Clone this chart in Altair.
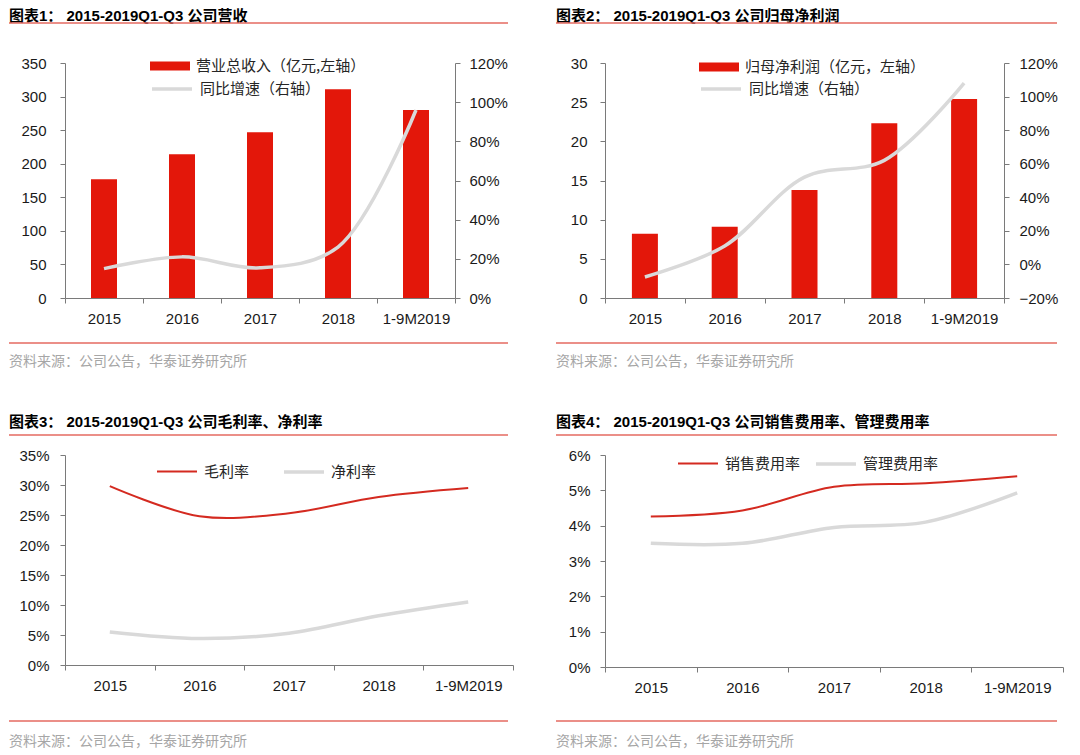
import altair as alt
import pandas as pd

years = ["2015", "2016", "2017", "2018", "1-9M2019"]
idx = [0, 1, 2, 3, 4]
revenue = [177, 214, 247, 311, 280]
revenue_growth = [0.15, 0.21, 0.154, 0.26, 0.96]
net_profit = [8.2, 9.1, 13.8, 22.3, 25.4]
net_profit_growth = [-0.075, 0.11, 0.52, 0.62, 1.08]
gross_margin = [0.298, 0.248, 0.253, 0.28, 0.295]
net_margin = [0.055, 0.044, 0.053, 0.082, 0.105]
sales_rate = [0.0426, 0.0443, 0.051, 0.052, 0.054]
admin_rate = [0.035, 0.035, 0.0395, 0.041, 0.0493]

titles = [
    "图表1：  2015-2019Q1-Q3 公司营收",
    "图表2：  2015-2019Q1-Q3 公司归母净利润",
    "图表3：  2015-2019Q1-Q3 公司毛利率、净利率",
    "图表4：  2015-2019Q1-Q3 公司销售费用率、管理费用率",
]
bar1_name = "营业总收入（亿元,左轴）"
line1_name = "同比增速（右轴）"
bar2_name = "归母净利润（亿元，左轴）"
line2_name = "同比增速（右轴）"
p3_names = ["毛利率", "净利率"]
p4_names = ["销售费用率", "管理费用率"]
source = "资料来源：公司公告，华泰证券研究所"

RED = "#E3170A"
GRAY = "#D9D9D9"
LINE_RED = "#D42A20"
DECO = "#E46A60"
LATIN = "Liberation Sans"
CJK = "Noto Sans CJK SC"
MIX = "Liberation Sans, Noto Sans CJK SC"
RECT_PATH = "M-1,-0.22L1,-0.22L1,0.22L-1,0.22Z"


def deco(title, x0, x1, y_title, y_top, y_bot, y_src):
    one = alt.Chart(pd.DataFrame({"k": [0]}))
    t = one.mark_text(text=title, font=MIX, fontSize=15, fontWeight="bold",
                      align="left", baseline="middle", color="#000000").encode(
        x=alt.value(x0), y=alt.value(y_title))
    r1 = one.mark_rule(color=DECO, strokeWidth=1.5).encode(
        x=alt.value(x0), x2=alt.value(x1), y=alt.value(y_top))
    r2 = one.mark_rule(color=DECO, strokeWidth=1.5).encode(
        x=alt.value(x0), x2=alt.value(x1), y=alt.value(y_bot))
    s = one.mark_text(text=source, font=CJK, fontSize=14, color="#a6a6a6",
                      align="left", baseline="middle").encode(
        x=alt.value(x0), y=alt.value(y_src))
    return [t, r1, r2, s]


def xenc():
    return alt.X("year:N", sort=years,
                 scale=alt.Scale(paddingInner=0, paddingOuter=0),
                 axis=alt.Axis(title=None, labelAngle=0, tickBand="extent",
                               labelPadding=8))


def bar_line_panel(df, bar_field, line_field, bar_name, line_name, ydom, yvals,
                   rdom, rvals, lpad, rpad, legx, legy_bar, legy_line, w, h, d):
    bars = alt.Chart(df).mark_bar(size=26).encode(
        x=xenc(),
        y=alt.Y(bar_field + ":Q", scale=alt.Scale(domain=ydom, nice=False),
                axis=alt.Axis(title=None, values=yvals, labelPadding=lpad)),
        fill=alt.Fill("bar_s:N", scale=alt.Scale(domain=[bar_name], range=[RED]),
                      legend=alt.Legend(title=None, orient="none", legendX=legx,
                                        legendY=legy_bar, symbolType=RECT_PATH,
                                        symbolSize=1600, symbolStrokeWidth=0,
                                        labelOffset=6, labelFontSize=15,
                                        labelFont=CJK, labelColor="#262626",
                                        labelLimit=400, padding=0)),
    )
    line = alt.Chart(df).mark_line(interpolate="catmull-rom", strokeWidth=3.5).encode(
        x=xenc(),
        y=alt.Y(line_field + ":Q", scale=alt.Scale(domain=rdom, nice=False),
                axis=alt.Axis(orient="right", title=None, format=".0%",
                              values=rvals, labelPadding=rpad)),
        order=alt.Order("idx:Q"),
        stroke=alt.Stroke("line_s:N", scale=alt.Scale(domain=[line_name], range=[GRAY]),
                          legend=alt.Legend(title=None, orient="none", legendX=legx,
                                            legendY=legy_line, symbolType="stroke",
                                            symbolSize=1600, symbolStrokeWidth=3.5,
                                            labelOffset=6, labelFontSize=15,
                                            labelFont=CJK, labelColor="#262626",
                                            labelLimit=400, padding=0)),
    )
    return alt.layer(bars, line, *d).resolve_scale(y="independent").properties(
        width=w, height=h)


def two_line_panel(df, names, ydom, yvals, lpad, legx, legy, colpad, w, h, d):
    lines = alt.Chart(df).mark_line(interpolate="catmull-rom").encode(
        x=xenc(),
        y=alt.Y("value:Q", scale=alt.Scale(domain=ydom, nice=False),
                axis=alt.Axis(title=None, values=yvals, format=".0%",
                              labelPadding=lpad)),
        order=alt.Order("idx:Q"),
        detail="series:N",
        stroke=alt.Stroke("series:N",
                          scale=alt.Scale(domain=names, range=[LINE_RED, GRAY]),
                          legend=alt.Legend(title=None, orient="none", legendX=legx,
                                            legendY=legy, direction="horizontal",
                                            columns=2, columnPadding=colpad,
                                            symbolType="stroke", symbolSize=1600,
                                            symbolStrokeWidth=2.5, labelOffset=5,
                                            labelFontSize=15, labelFont=CJK,
                                            labelColor="#262626", labelLimit=400,
                                            padding=0)),
        strokeWidth=alt.StrokeWidth("series:N",
                                    scale=alt.Scale(domain=names, range=[2, 3.5]),
                                    legend=None),
    )
    return alt.layer(lines, *d).properties(width=w, height=h)


df1 = pd.DataFrame({"year": years, "idx": idx, "revenue": revenue,
                    "growth": revenue_growth, "bar_s": [bar1_name] * 5,
                    "line_s": [line1_name] * 5})
df2 = pd.DataFrame({"year": years, "idx": idx, "profit": net_profit,
                    "growth": net_profit_growth, "bar_s": [bar2_name] * 5,
                    "line_s": [line2_name] * 5})
df3 = pd.DataFrame({"year": years * 2, "idx": idx * 2,
                    "value": gross_margin + net_margin,
                    "series": [p3_names[0]] * 5 + [p3_names[1]] * 5})
df4 = pd.DataFrame({"year": years * 2, "idx": idx * 2,
                    "value": sales_rate + admin_rate,
                    "series": [p4_names[0]] * 5 + [p4_names[1]] * 5})

pct120 = [0, 0.2, 0.4, 0.6, 0.8, 1.0, 1.2]
pct_neg = [-0.2, 0, 0.2, 0.4, 0.6, 0.8, 1.0, 1.2]

p1 = bar_line_panel(df1, "revenue", "growth", bar1_name, line1_name,
                    [0, 350], list(range(0, 351, 50)), [0, 1.2], pct120,
                    14, 9, 85, -17, 4, 390, 235,
                    deco(titles[0], -56, 443, -47, -40, 280, 299))
p2 = bar_line_panel(df2, "profit", "growth", bar2_name, line2_name,
                    [0, 30], list(range(0, 31, 5)), [-0.2, 1.2], pct_neg,
                    13, 10, 94, -16, 4, 399, 235,
                    deco(titles[1], -49, 452, -47, -40, 280, 299))
p3 = two_line_panel(df3, p3_names, [0, 0.35],
                    [0, 0.05, 0.1, 0.15, 0.2, 0.25, 0.3, 0.35], 11,
                    90, -5, 27, 448, 210,
                    deco(titles[2], -56, 443, -33, -20, 266, 287))
p4 = two_line_panel(df4, p4_names, [0, 0.06],
                    [0, 0.01, 0.02, 0.03, 0.04, 0.05, 0.06], 10,
                    71, -13, 8, 458, 212,
                    deco(titles[3], -49, 452, -33, -20, 266, 287))

chart = alt.concat(p1, p2, p3, p4, columns=2,
                   spacing={"row": 157, "column": 92},
                   bounds="flush",
                   padding={"left": 0, "top": 1, "right": 0, "bottom": 0}).resolve_scale(
    x="independent", y="independent", fill="independent",
    stroke="independent", strokeWidth="independent").resolve_legend(
    fill="independent", stroke="independent").configure_view(
    strokeWidth=0).configure_axis(
    domainColor="#7a7a7a", tickColor="#7a7a7a", labelColor="#1a1a1a",
    labelFont=LATIN, labelFontSize=15, grid=False, tickSize=5,
    domainWidth=1, tickWidth=1)

chart.save("out.html", embed_options={"renderer": "svg", "actions": False})
